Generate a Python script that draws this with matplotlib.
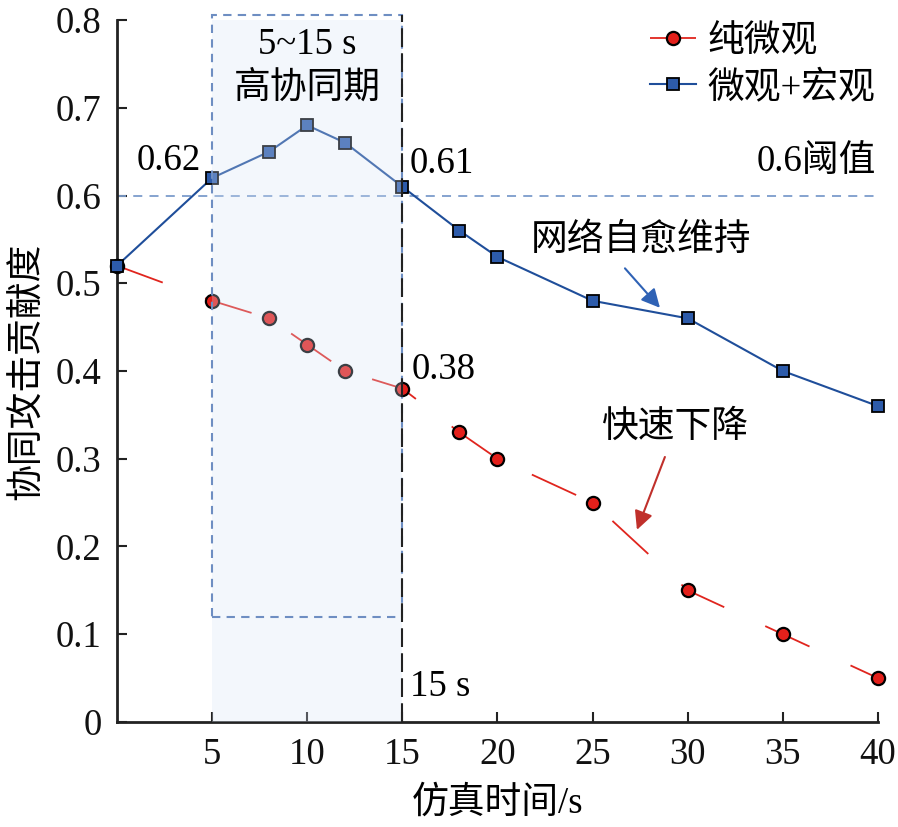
import matplotlib
matplotlib.use("Agg")
import matplotlib.pyplot as plt
from matplotlib.patches import Rectangle

plt.rcParams['font.family'] = ['Liberation Serif', 'Noto Sans CJK SC', 'DejaVu Sans']
plt.rcParams['font.size'] = 26.5

# ---- data ----
time_s = [0, 5, 8, 10, 12, 15, 18, 20, 25, 30, 35, 40]
pure_micro = [0.52, 0.48, 0.46, 0.43, 0.40, 0.38, 0.33, 0.30, 0.25, 0.15, 0.10, 0.05]
micro_macro = [0.52, 0.62, 0.65, 0.68, 0.66, 0.61, 0.56, 0.53, 0.48, 0.46, 0.40, 0.36]
series_labels = ['纯微观', '微观+宏观']
xticks = [5, 10, 15, 20, 25, 30, 35, 40]
yticks = [0, 0.1, 0.2, 0.3, 0.4, 0.5, 0.6, 0.7, 0.8]
ytick_labels = ['0', '0.1', '0.2', '0.3', '0.4', '0.5', '0.6', '0.7', '0.8']
threshold = 0.6
window = (5, 15)

fig = plt.figure(figsize=(8.98, 8.27), dpi=100)
ax = fig.add_axes([0.1303, 0.1270, 0.8474, 0.8488])

ax.plot(time_s, pure_micro, color='#E0251E', lw=1.3, dashes=(27, 25),
        marker='o', ms=9.5, mfc='#E3201B', mec='black', mew=1.6,
        label=series_labels[0], clip_on=False, zorder=3)
ax.plot(time_s, micro_macro, color='#1F4E9A', lw=1.5,
        marker='s', ms=8, mfc='#2D5BAA', mec='black', mew=1.3,
        label=series_labels[1], clip_on=False, zorder=3)

# threshold line
ax.plot([0, 40], [threshold, threshold], color='#7C9CCB', lw=1.3,
        dashes=(5, 4), zorder=2)

# shaded window (drawn over lines, translucent)
ax.add_patch(Rectangle((window[0], 0), window[1] - window[0], 0.8,
                       facecolor='#D6E4F7', alpha=0.28, edgecolor='none',
                       zorder=4, clip_on=False))
# dashed box
ax.add_patch(Rectangle((window[0], 0.12), window[1] - window[0], 0.806 - 0.12,
                       facecolor='none', edgecolor='#6E8EC2', lw=1.5,
                       linestyle=(0, (4, 3)), zorder=5, clip_on=False))
# vertical black dashed line at 15 s
ax.plot([window[1], window[1]], [0, 0.806], color='#222222', lw=1.5,
        dashes=(9, 3), zorder=6, clip_on=False)

# annotations
ax.text(4.4, 0.64, '0.62', ha='right', va='center', zorder=7)
ax.text(15.4, 0.636, '0.61', ha='left', va='center', zorder=7)
ax.text(15.5, 0.401, '0.38', ha='left', va='center', zorder=7)
ax.text(15.4, 0.040, '15 s', ha='left', va='center', zorder=7)
ax.text(39.9, 0.638, '0.6阈值', ha='right', va='center', zorder=7)
ax.text(10, 0.772, '5~15 s', ha='center', va='center', zorder=7)
ax.text(10, 0.722, '高协同期', ha='center', va='center', zorder=7)
ax.text(27.54, 0.549, '网络自愈维持', ha='center', va='center', zorder=7)
ax.text(29.38, 0.335, '快速下降', ha='center', va='center', zorder=7)

ax.annotate('', xy=(28.54, 0.472), xytext=(26.7, 0.517),
            arrowprops=dict(arrowstyle='-|>', color='#2F62B5', lw=1.5,
                            mutation_scale=28, shrinkA=0, shrinkB=0), zorder=7)
ax.annotate('', xy=(27.33, 0.219), xytext=(28.8, 0.302),
            arrowprops=dict(arrowstyle='-|>', color='#C0302B', lw=1.5,
                            mutation_scale=28, shrinkA=0, shrinkB=0), zorder=7)

ax.set_xlim(0, 40)
ax.set_ylim(0, 0.8)
ax.set_xticks(xticks)
ax.set_yticks(yticks)
ax.set_yticklabels(ytick_labels)
ax.tick_params(direction='in', length=7, width=1.5, colors='#222222',
               labelcolor='#111111')
ax.tick_params(axis='x', pad=11)
ax.tick_params(axis='y', pad=11)
for s in ['top', 'right']:
    ax.spines[s].set_visible(False)
for s in ['left', 'bottom']:
    ax.spines[s].set_linewidth(2)
    ax.spines[s].set_color('#222222')

ax.set_xlabel('仿真时间/s', labelpad=10)
ax.set_ylabel('协同攻击贡献度', labelpad=8)

leg = ax.legend(loc='upper right', bbox_to_anchor=(1.025, 1.025), frameon=False,
                handlelength=1.25, handletextpad=0.3, labelspacing=0.3,
                borderaxespad=0.2)

fig.savefig('out.png', dpi=100)
